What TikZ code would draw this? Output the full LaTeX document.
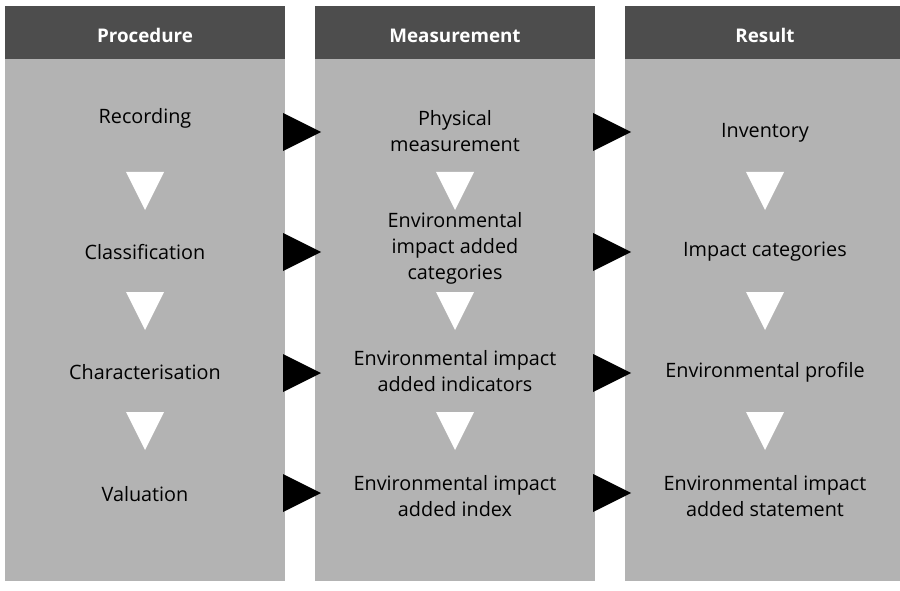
\documentclass[tikz,border=0pt]{standalone}
\usepackage{fontspec}
\setmainfont{Open Sans}
\begin{document}
\begin{tikzpicture}[x=1pt,y=-1pt,
  colbody/.style={fill=bodygray},
  colhead/.style={fill=headgray},
  headtxt/.style={text=white,anchor=base,font=\fontsize{18.8}{22}\selectfont\bfseries},
  celltxt/.style={text=black,align=center,inner sep=0pt,font=\fontsize{19.8}{26}\selectfont},
  rarrow/.style={fill=black},
  darrow/.style={fill=white}]
\definecolor{bodygray}{HTML}{B3B3B3}
\definecolor{headgray}{HTML}{4D4D4D}
\useasboundingbox (0,0) rectangle (900,591);
\clip (0,0) rectangle (900,591);
% columns
\foreach \x in {5,315,625}{
  \fill[colbody] (\x,59) rectangle (\x+280,581);
  \fill[colhead] (\x,6) rectangle (\x+280,59);
}
% headers
\node[headtxt] (h1) at (145,43) {Procedure};
\node[headtxt] (h2) at (455,43) {Measurement};
\node[headtxt] (h3) at (765,43) {Result};
% column 1
\node[celltxt] (p1) at (145,118) {Recording};
\node[celltxt] (p2) at (145,252) {Classification};
\node[celltxt] (p3) at (145,372) {Characterisation};
\node[celltxt] (p4) at (145,494) {Valuation};
% column 2
\node[celltxt] (m1) at (455,131) {Physical\\measurement};
\node[celltxt] (m2) at (455,248) {Environmental\\impact added\\categories};
\node[celltxt] (m3) at (455,371) {Environmental impact\\added indicators};
\node[celltxt] (m4) at (455,496) {Environmental impact\\added index};
% column 3
\node[celltxt] (r1) at (765,133) {Inventory};
\node[celltxt] (r2) at (765,252) {Impact categories};
\node[celltxt] (r3) at (765,372) {Environmental profile};
\node[celltxt] (r4) at (765,496) {Environmental impact\\added statement};
% right arrows
\foreach \c in {132,252,373,493}{
  \fill[rarrow] (283,\c-19) -- (321,\c) -- (283,\c+19) -- cycle;
  \fill[rarrow] (593,\c-19) -- (631,\c) -- (593,\c+19) -- cycle;
}
% down arrows
\foreach \cx in {145,455,765}{
  \foreach \t in {172,292,412}{
    \fill[darrow] (\cx-19,\t) -- (\cx+19,\t) -- (\cx,\t+38) -- cycle;
  }
}
\end{tikzpicture}
\end{document}
